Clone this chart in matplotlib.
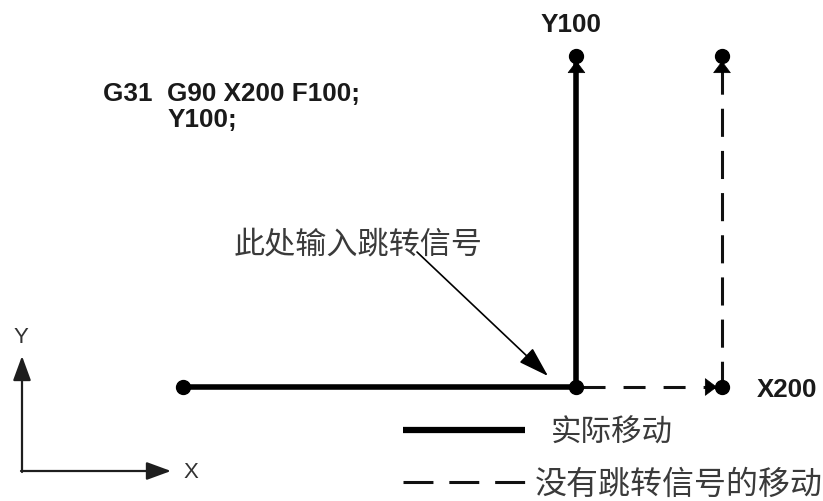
import matplotlib
matplotlib.use("Agg")
import matplotlib.pyplot as plt
from matplotlib.lines import Line2D

# ---- data (program coordinates) ----
actual_x = [0, 146, 146]      # start -> skip point -> Y100
actual_y = [0, 0, 100]
noskip_x = [146, 200, 200]    # skip point -> X200 -> Y100
noskip_y = [0, 0, 100]
program_lines = ["G31  G90 X200 F100;", "Y100;"]
end_labels = ["Y100", "X200"]
legend_labels = ["实际移动", "没有跳转信号的移动"]
annot_text = "此处输入跳转信号"
axis_labels = ["X", "Y"]

W, H = 823, 502
fig = plt.figure(figsize=(W / 100, H / 100), dpi=100)
ax = fig.add_axes([0, 0, 1, 1])
ax.set_axis_off()
# scale: X 0..200 -> px 183..722, Y 0..100 -> px 388..57
sx = (722 - 183) / 200.0
sy = (388 - 57) / 100.0
ax.set_xlim(-183 / sx, (W - 183) / sx)
ax.set_ylim((388 - H) / sy, 388 / sy)


def F(px, py):
    return (px / W, 1 - py / H)


CJK = ['Noto Sans CJK SC', 'DejaVu Sans']
BOLD = dict(family='Liberation Sans', fontweight='bold', color='#1a1a1a')

# actual move (thick solid)
ax.plot(actual_x, actual_y, color='black', lw=4.0, solid_capstyle='butt', zorder=3)
# move without skip (dashed)
ax.plot(noskip_x[:2], noskip_y[:2], color='#111111', lw=2.2,
        linestyle=(10.8, (7.2, 5.9)), zorder=2)
ax.plot(noskip_x[1:][::-1], noskip_y[1:][::-1], color='#111111', lw=2.2,
        linestyle=(10.5, (9.2, 4.6)), zorder=2)

# end dots
ax.plot([actual_x[0], actual_x[1], actual_x[2], noskip_x[1], noskip_x[2]],
        [actual_y[0], actual_y[1], actual_y[2], noskip_y[1], noskip_y[2]],
        'o', color='black', ms=10, zorder=5)

# arrow heads near ends
head = dict(arrowstyle='-|>,head_length=0.8,head_width=0.6', color='black',
            lw=0.5, shrinkA=0, shrinkB=3.6, mutation_scale=10)
for (x, y) in [(actual_x[2], actual_y[2]), (noskip_x[2], noskip_y[2])]:
    ax.annotate('', xy=(x, y), xycoords='data', xytext=(0, -12),
                textcoords='offset points', arrowprops=head, zorder=4)
ax.annotate('', xy=(noskip_x[1], noskip_y[1]), xycoords='data', xytext=(-12, 0),
            textcoords='offset points', arrowprops=head, zorder=4)

# labels at ends
fig.text(*F(571, 25), end_labels[0], ha='center', va='center', fontsize=18.8, **BOLD)
fig.text(*F(757, 390), end_labels[1], ha='left', va='center', fontsize=18.6, **BOLD)

# program text
fig.text(*F(103, 94), program_lines[0], ha='left', va='center', fontsize=18.8, **BOLD)
fig.text(*F(168, 120), program_lines[1], ha='left', va='center', fontsize=18.8, **BOLD)

# annotation
fig.text(*F(234, 245), annot_text, ha='left', va='center', fontsize=22.4,
         family=CJK, color='#3a3a3a')
ax.annotate('', xy=F(548, 377), xycoords='figure fraction',
            xytext=F(417, 253), textcoords='figure fraction',
            arrowprops=dict(arrowstyle='-|>,head_length=1.9,head_width=0.6',
                            color='black', lw=1.2, shrinkA=0, shrinkB=0,
                            mutation_scale=10))

# coordinate system
axarrow = dict(arrowstyle='-|>,head_length=1.5,head_width=0.55', color='#1e1e1e',
               lw=1.6, shrinkA=0, shrinkB=0, mutation_scale=10)
ax.annotate('', xy=F(22, 357), xycoords='figure fraction',
            xytext=F(22, 473), textcoords='figure fraction', arrowprops=axarrow)
ax.annotate('', xy=F(171, 472), xycoords='figure fraction',
            xytext=F(21, 472), textcoords='figure fraction', arrowprops=axarrow)
fig.text(*F(21, 338), axis_labels[1], ha='center', va='center', fontsize=16,
         family='Liberation Sans', color='#333333')
fig.text(*F(191, 473), axis_labels[0], ha='center', va='center', fontsize=16,
         family='Liberation Sans', color='#333333')

# legend
fig.add_artist(Line2D([403 / W, 525 / W], [1 - 431 / H, 1 - 431 / H], color='black',
                      lw=4.5, solid_capstyle='butt'))
fig.add_artist(Line2D([403 / W, 526 / W], [1 - 483 / H, 1 - 483 / H], color='#111111',
                      lw=2.2, linestyle=(0, (9.8, 5.2))))
fig.text(*F(551, 433), legend_labels[0], ha='left', va='center', fontsize=22,
         family=CJK, color='#3a3a3a')
fig.text(*F(535, 485), legend_labels[1], ha='left', va='center', fontsize=23,
         family=CJK, color='#3a3a3a')

fig.savefig('out.png', dpi=100, facecolor='white')
